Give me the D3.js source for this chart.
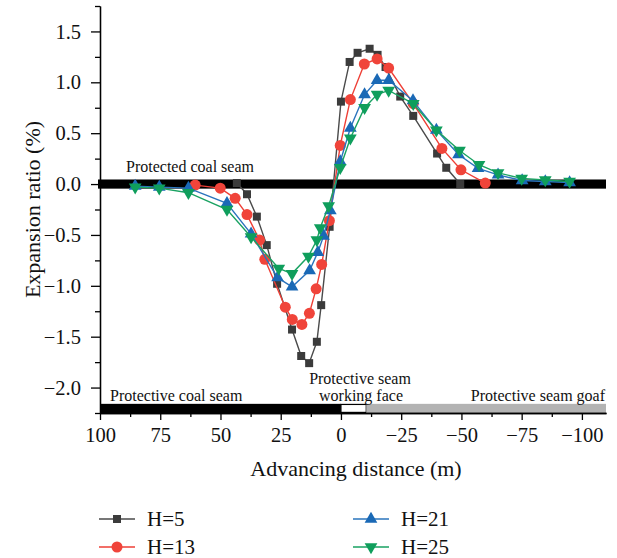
<!DOCTYPE html>
<html>
<head>
<meta charset="utf-8">
<script src="https://cdn.jsdelivr.net/npm/d3@7"></script>
<style>
  html, body { margin: 0; padding: 0; background: #fff; }
  svg { display: block; }
  text { font-family: "Liberation Serif", "Times New Roman", serif; fill: #111; }
</style>
</head>
<body>
<svg id="chart" width="617" height="558"></svg>
<script>
// Advancing distance (m) and expansion ratio (%) for each H value
const xH5  = [43.2, 39.0, 34.9, 30.8, 26.5, 20.3, 16.5, 13.2, 10.0, 8.2, 4.7, 0, -3.6, -6.9, -11.9, -15.2, -18.5, -24.6, -30.0, -39.9, -43.7, -49.5];
const yH5  = [0.01, -0.10, -0.32, -0.60, -0.98, -1.43, -1.69, -1.76, -1.55, -1.19, -0.42, 0.81, 1.20, 1.29, 1.33, 1.27, 1.15, 0.86, 0.67, 0.30, 0.16, 0.00];

const xH13 = [60.5, 50.1, 43.9, 39.0, 33.8, 31.6, 23.1, 20.2, 16.2, 13.1, 10.3, 8.0, 4.8, 0.3, -3.9, -9.7, -15.0, -19.8, -30.0, -41.9, -49.8, -59.9];
const yH13 = [-0.01, -0.04, -0.14, -0.30, -0.55, -0.74, -1.21, -1.33, -1.38, -1.27, -1.03, -0.79, -0.36, 0.38, 0.83, 1.18, 1.23, 1.14, 0.79, 0.35, 0.14, 0.01];

const xH21 = [85.4, 75.4, 63.3, 47.3, 37.3, 26.3, 20.3, 13.0, 9.6, 7.2, 4.4, 0.3, -3.9, -9.8, -15.0, -19.8, -29.9, -39.6, -48.8, -56.9, -65.2, -75.2, -84.8, -94.9];
const yH21 = [-0.02, -0.03, -0.04, -0.19, -0.49, -0.92, -1.01, -0.85, -0.67, -0.51, -0.26, 0.22, 0.55, 0.88, 1.02, 1.02, 0.82, 0.53, 0.29, 0.155, 0.09, 0.035, 0.025, 0.015];

const xH25 = [85.4, 75.4, 63.3, 47.3, 37.3, 25.8, 20.3, 13.5, 10.0, 8.6, 5.1, 0.3, -3.9, -9.8, -15.0, -19.8, -30.0, -39.6, -49.2, -57.3, -65.2, -75.0, -84.8, -94.9];
const yH25 = [-0.03, -0.04, -0.085, -0.25, -0.52, -0.83, -0.88, -0.71, -0.55, -0.43, -0.215, 0.16, 0.45, 0.75, 0.88, 0.92, 0.79, 0.53, 0.33, 0.19, 0.11, 0.056, 0.04, 0.025];

const seriesNames = ["H=5", "H=13", "H=21", "H=25"];
const xTicks = [100, 75, 50, 25, 0, -25, -50, -75, -100];
const yTicks = [-2.0, -1.5, -1.0, -0.5, 0.0, 0.5, 1.0, 1.5];

// Working-face zones along the bottom strip (m)
const zoneSeam = [100, 0];
const zoneFace = [0, -10.5];
const zoneGoaf = [-10.5, -110];

const series = [
  { name: seriesNames[0], xs: xH5,  ys: yH5,  line: "#4a4a4a", fill: "#3b3b3b", sym: "square" },
  { name: seriesNames[1], xs: xH13, ys: yH13, line: "#ee3f36", fill: "#f0443a", sym: "circle" },
  { name: seriesNames[2], xs: xH21, ys: yH21, line: "#2a74bd", fill: "#1a69b6", sym: "up" },
  { name: seriesNames[3], xs: xH25, ys: yH25, line: "#19a262", fill: "#0f9e5c", sym: "down" }
];

const svg = d3.select("#chart");
const x = d3.scaleLinear().domain([100, -110]).range([100, 606]);
const y = d3.scaleLinear().domain([-2.25, 1.75]).range([413, 6]);

function fmt(v) { return d3.format(".1f")(v).replace("-", "\u2212"); }
function fmtX(v) { return String(v).replace("-", "\u2212"); }

// Protected coal seam band at zero
svg.append("rect")
  .attr("x", x(100) - 2).attr("y", y(0.045))
  .attr("width", x(-110) - x(100) + 2).attr("height", y(-0.045) - y(0.045))
  .attr("fill", "#000");

// Bottom strip: protective coal seam, working face, goaf
const stripTop = y(-2.16), stripBot = y(-2.25);
svg.append("rect").attr("x", x(zoneSeam[0])).attr("y", stripTop)
  .attr("width", x(zoneSeam[1]) - x(zoneSeam[0])).attr("height", stripBot - stripTop).attr("fill", "#000");
svg.append("rect").attr("x", x(zoneFace[0])).attr("y", stripTop + 0.6)
  .attr("width", x(zoneFace[1]) - x(zoneFace[0])).attr("height", stripBot - stripTop - 1.2)
  .attr("fill", "#fff").attr("stroke", "#000").attr("stroke-width", 1.2);
svg.append("rect").attr("x", x(zoneGoaf[0])).attr("y", stripTop)
  .attr("width", x(zoneGoaf[1]) - x(zoneGoaf[0])).attr("height", stripBot - stripTop).attr("fill", "#b3b3b3");

// Axes
const xAxis = d3.axisBottom(x).tickValues(xTicks).tickFormat(fmtX).tickSizeInner(7).tickSizeOuter(0).tickPadding(7);
const xMinor = d3.axisBottom(x).tickValues(d3.range(-100, 101, 12.5).filter(v => v % 25 !== 0)).tickFormat("").tickSizeInner(4).tickSizeOuter(0);
const yAxis = d3.axisLeft(y).tickValues(yTicks).tickFormat(fmt).tickSizeInner(9).tickSizeOuter(0).tickPadding(10);
const yMinor = d3.axisLeft(y).tickValues(d3.range(-2.25, 1.76, 0.25).filter(v => Math.abs((v * 2) % 1) > 0.01)).tickFormat("").tickSizeInner(5).tickSizeOuter(0);

function styleAxis(g) {
  g.selectAll("path, line").attr("stroke", "#000").attr("stroke-width", 1.3);
  g.selectAll("text").style("font-family", "'Liberation Serif', serif").style("font-size", "20.5px").attr("fill", "#111");
}
svg.append("g").attr("transform", `translate(0,${y(-2.25)})`).call(xAxis).call(styleAxis);
svg.append("g").attr("transform", `translate(0,${y(-2.25)})`).call(xMinor).call(styleAxis);
svg.append("g").attr("transform", `translate(${x(100)},0)`).call(yAxis).call(styleAxis);
svg.append("g").attr("transform", `translate(${x(100)},0)`).call(yMinor).call(styleAxis);

// Axis titles
svg.append("text").attr("x", 356).attr("y", 476).attr("text-anchor", "middle")
  .style("font-size", "22px").text("Advancing distance (m)");
svg.append("text").attr("transform", `translate(32,${(y(1.75) + y(-2.25)) / 2}) rotate(-90)`)
  .attr("text-anchor", "middle").attr("dy", "0.35em")
  .style("font-size", "22px").text("Expansion ratio (%)");

// Annotations
svg.append("text").attr("x", 126).attr("y", 172).style("font-size", "16px").text("Protected coal seam");
svg.append("text").attr("x", 110).attr("y", 401).style("font-size", "16px").text("Protective coal seam");
svg.append("text").attr("x", 360).attr("y", 384).attr("text-anchor", "middle").style("font-size", "16px").text("Protective seam");
svg.append("text").attr("x", 361).attr("y", 401).attr("text-anchor", "middle").style("font-size", "16px").text("working face");
svg.append("text").attr("x", 605).attr("y", 401).attr("text-anchor", "end").style("font-size", "16px").text("Protective seam goaf");

// Markers
const symSquare = d3.symbol().type(d3.symbolSquare).size(64);
const symCircle = d3.symbol().type(d3.symbolCircle).size(95);
const symTri = d3.symbol().type(d3.symbolTriangle).size(70);
function drawMarker(g, s, cx, cy) {
  if (s.sym === "square") {
    g.append("path").attr("d", symSquare()).attr("transform", `translate(${cx},${cy})`).attr("fill", s.fill);
  } else if (s.sym === "circle") {
    g.append("path").attr("d", symCircle()).attr("transform", `translate(${cx},${cy})`).attr("fill", s.fill);
  } else if (s.sym === "up") {
    g.append("path").attr("d", symTri()).attr("transform", `translate(${cx},${cy})`).attr("fill", s.fill);
  } else {
    g.append("path").attr("d", symTri()).attr("transform", `translate(${cx},${cy}) rotate(180)`).attr("fill", s.fill);
  }
}

const line = d3.line().x(d => x(d[0])).y(d => y(d[1]));
series.forEach(s => {
  const pts = s.xs.map((v, i) => [v, s.ys[i]]);
  const g = svg.append("g");
  g.append("path").datum(pts).attr("d", line).attr("fill", "none")
    .attr("stroke", s.line).attr("stroke-width", 1.4);
  pts.forEach(p => drawMarker(g, s, x(p[0]), y(p[1])));
});

// Legend
const legendPos = [[99, 519], [99, 547], [353, 519], [353, 547]];
series.forEach((s, i) => {
  const [lx, ly] = legendPos[i];
  const g = svg.append("g");
  g.append("line").attr("x1", lx).attr("x2", lx + 36).attr("y1", ly).attr("y2", ly)
    .attr("stroke", s.line).attr("stroke-width", 1.6);
  drawMarker(g, s, lx + 18, ly);
  g.append("text").attr("x", lx + 48).attr("y", ly).attr("dy", "0.35em")
    .style("font-size", "21px").text(s.name);
});
</script>
</body>
</html>
